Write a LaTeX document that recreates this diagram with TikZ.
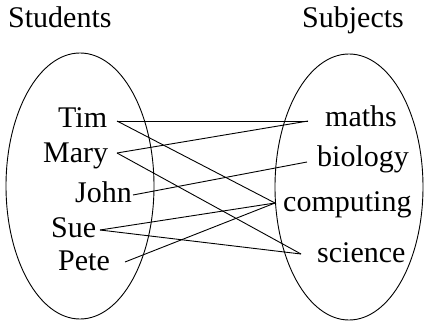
\documentclass[tikz,border=0pt]{standalone}
\usepackage{fontspec}
\setmainfont{Liberation Serif}
\begin{document}
\begin{tikzpicture}[x=1pt,y=-1pt,
  lbl/.style={anchor=base west,inner sep=0pt,font=\fontsize{30}{36}\selectfont},
  link/.style={line width=0.9pt},
  setshape/.style={line width=0.9pt}]
\useasboundingbox (0,0) rectangle (424,321);
% titles
\node[lbl] (students) at (8,28) {Students};
\node[lbl] (subjects) at (302,28) {Subjects};
% sets
\draw[setshape] (80,186) ellipse [x radius=74, y radius=133];
\draw[setshape] (349,187) ellipse [x radius=74, y radius=133];
% students
\node[lbl] (tim) at (58,128) {Tim};
\node[lbl] (mary) at (43,163) {Mary};
\node[lbl] (john) at (75,203) {John};
\node[lbl] (sue) at (51,238) {Sue};
\node[lbl] (pete) at (58,270) {Pete};
% subjects
\node[lbl] (maths) at (325,127) {maths};
\node[lbl] (biology) at (317,167) {biology};
\node[lbl] (computing) at (283,212) {computing};
\node[lbl] (science) at (317,262) {science};
% connector ends
\coordinate (timP) at (117,121);
\coordinate (maryP) at (117,153);
\coordinate (johnP) at (133,195);
\coordinate (sueP) at (100,230);
\coordinate (peteP) at (125,262);
\coordinate (mathsP) at (308,121);
\coordinate (biologyP) at (307,162);
\coordinate (computingP) at (275,203);
\coordinate (scienceP) at (301,254);
% links
\draw[link] (timP) -- (mathsP);
\draw[link] (timP) -- (computingP);
\draw[link] (maryP) -- (mathsP);
\draw[link] (maryP) -- (scienceP);
\draw[link] (johnP) -- (biologyP);
\draw[link] (sueP) -- (computingP);
\draw[link] (sueP) -- (scienceP);
\draw[link] (peteP) -- (computingP);
\end{tikzpicture}
\end{document}
